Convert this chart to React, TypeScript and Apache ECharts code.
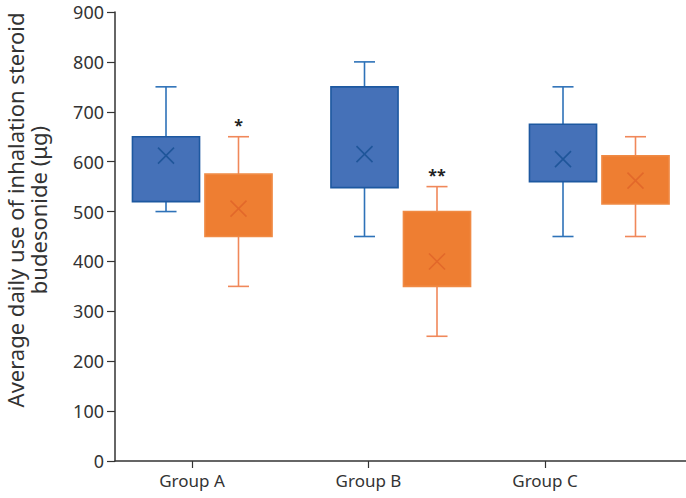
import React, { useEffect, useRef } from "react";
import * as echarts from "echarts";

const categories = ["Group A", "Group B", "Group C"];
// [groupIndex, min, q1, q3, max, mean]
const blueStats = [
  [0, 500, 520, 650, 750, 612],
  [1, 450, 548, 750, 800, 615],
  [2, 450, 560, 675, 750, 605],
];
const orangeStats = [
  [0, 350, 450, 575, 650, 506],
  [1, 250, 350, 500, 550, 400],
  [2, 450, 515, 612, 650, 562],
];
const significance = ["*", "**", ""];
const yTicks = { min: 0, max: 900, interval: 100 };
const yTitle = "Average daily use of inhalation steroid\nbudesonide (μg)";

function makeRender(sign: number, fill: string, border: string, whisker: string, cross: string, withSig: boolean) {
  return (params: any, api: any) => {
    const gx = api.value(0);
    const bandW = api.size([1, 0])[0];
    const boxW = bandW * 0.338;
    const capW = bandW * 0.106;
    const off = bandW * 0.1826 * sign;
    const pMin = api.coord([gx, api.value(1)]);
    const pQ1 = api.coord([gx, api.value(2)]);
    const pQ3 = api.coord([gx, api.value(3)]);
    const pMax = api.coord([gx, api.value(4)]);
    const pMean = api.coord([gx, api.value(5)]);
    const cx = pMin[0] + off;
    const s = 8;
    const children: any[] = [
      { type: "line", shape: { x1: cx, y1: pMax[1], x2: cx, y2: pQ3[1] }, style: { stroke: whisker, lineWidth: 1.6 } },
      { type: "line", shape: { x1: cx, y1: pMin[1], x2: cx, y2: pQ1[1] }, style: { stroke: whisker, lineWidth: 1.6 } },
      { type: "line", shape: { x1: cx - capW / 2, y1: pMax[1], x2: cx + capW / 2, y2: pMax[1] }, style: { stroke: whisker, lineWidth: 1.6 } },
      { type: "line", shape: { x1: cx - capW / 2, y1: pMin[1], x2: cx + capW / 2, y2: pMin[1] }, style: { stroke: whisker, lineWidth: 1.6 } },
      {
        type: "rect",
        shape: { x: cx - boxW / 2, y: pQ3[1], width: boxW, height: pQ1[1] - pQ3[1] },
        style: { fill, stroke: border, lineWidth: 1.6 },
      },
      { type: "line", shape: { x1: cx - s, y1: pMean[1] - s, x2: cx + s, y2: pMean[1] + s }, style: { stroke: cross, lineWidth: 1.6 } },
      { type: "line", shape: { x1: cx - s, y1: pMean[1] + s, x2: cx + s, y2: pMean[1] - s }, style: { stroke: cross, lineWidth: 1.6 } },
    ];
    if (withSig) {
      const t = significance[Math.round(gx)];
      if (t) {
        children.push({
          type: "text",
          x: cx,
          y: pMax[1] - 4,
          style: { text: t, fill: "#222", font: "bold 16px 'Noto Sans'", align: "center", verticalAlign: "bottom" },
        });
      }
    }
    return { type: "group", children };
  };
}

export default function App() {
  const ref = useRef<HTMLDivElement>(null);
  useEffect(() => {
    if (!ref.current) return;
    const chart = echarts.init(ref.current, null, { renderer: "svg" });
    const axisColor = "#333";
    chart.setOption({
      animation: false,
      backgroundColor: "#fff",
      textStyle: { fontFamily: "Noto Sans" },
      grid: { left: 115, right: 0, top: 12, bottom: 37 },
      xAxis: [
        {
          type: "value",
          min: -0.43626,
          max: 2.79887,
          axisLine: { show: true, onZero: false, lineStyle: { color: axisColor, width: 1.5 } },
          axisTick: { show: true, length: 7, customValues: [0, 1, 2], lineStyle: { color: axisColor, width: 1.2 } },
          axisLabel: {
            customValues: [0, 1, 2],
            formatter: (v: number) => categories[Math.round(v)] ?? "",
            fontSize: 17,
            color: "#333",
            margin: 11,
          },
          splitLine: { show: false },
        },
        {
          type: "value",
          min: -0.43955,
          max: 2.43702,
          show: false,
          splitLine: { show: false },
        },
      ],
      yAxis: {
        type: "value",
        min: yTicks.min,
        max: yTicks.max,
        interval: yTicks.interval,
        axisLine: { show: true, onZero: false, lineStyle: { color: axisColor, width: 1.5 } },
        axisTick: { show: true, length: 8, lineStyle: { color: axisColor, width: 1.2 } },
        axisLabel: { fontSize: 18, color: "#333", margin: 11 },
        splitLine: { show: false },
      },
      graphic: [
        {
          type: "text",
          x: 26,
          y: 210,
          rotation: Math.PI / 2,
          style: {
            text: yTitle,
            fill: "#333",
            font: "22px 'Noto Sans'",
            align: "center",
            verticalAlign: "middle",
            lineHeight: 23,
          },
        },
      ],
      series: [
        {
          type: "custom",
          xAxisIndex: 1,
          data: blueStats,
          encode: { x: 0, y: [1, 2, 3, 4, 5] },
          renderItem: makeRender(-1, "#4571B8", "#1D58A0", "#2E72B8", "#1F569A", false),
          z: 2,
        },
        {
          type: "custom",
          xAxisIndex: 1,
          data: orangeStats,
          encode: { x: 0, y: [1, 2, 3, 4, 5] },
          renderItem: makeRender(1, "#EE7E32", "#F08A44", "#F0885A", "#E2682A", true),
          z: 2,
        },
      ],
    });
    return () => chart.dispose();
  }, []);
  return <div ref={ref} style={{ position: "fixed", left: 0, top: 0, width: 686, height: 498 }} />;
}
